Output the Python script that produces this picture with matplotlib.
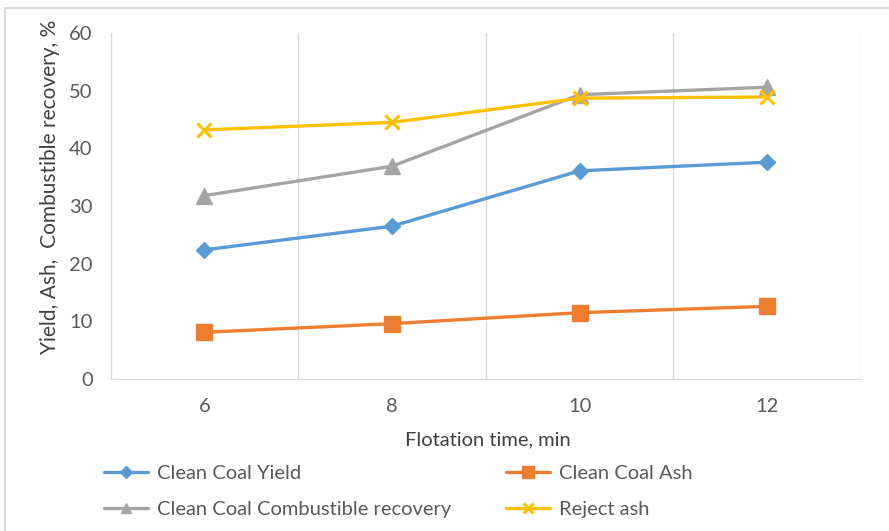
import matplotlib
matplotlib.use("Agg")
import matplotlib.pyplot as plt
from matplotlib.lines import Line2D

plt.rcParams['font.family'] = ['Lato', 'DejaVu Sans']

# Flotation times (min) and measured series (%)
times = ["6", "8", "10", "12"]
clean_coal_yield = [22.4, 26.5, 36.1, 37.6]
clean_coal_ash = [8.1, 9.6, 11.5, 12.6]
combustible_recovery = [31.8, 36.9, 49.3, 50.6]
reject_ash = [43.2, 44.5, 48.7, 48.9]
y_ticks = [0, 10, 20, 30, 40, 50, 60]

W, H = 889, 531
fig = plt.figure(figsize=(W / 100, H / 100), dpi=100)

# Outer chart frame (left and top edges)
fig.add_artist(Line2D([5 / W, 5 / W], [0, 1 - 8 / H], color="#D9D9D9", lw=1.5))
fig.add_artist(Line2D([5 / W, 1], [1 - 8 / H, 1 - 8 / H], color="#D9D9D9", lw=1.5))

left, right, top, bottom = 110.7, 861, 33, 379
ax = fig.add_axes([left / W, 1 - bottom / H, (right - left) / W, (bottom - top) / H])

x = list(range(len(times)))
series = [
    ("Clean Coal Yield", clean_coal_yield, "#5B9BD5", "D", 8.5, {}),
    ("Clean Coal Ash", clean_coal_ash, "#ED7D31", "s", 11.5, {}),
    ("Clean Coal Combustible recovery", combustible_recovery, "#A5A5A5", "^", 11, {}),
    ("Reject ash", reject_ash, "#FFC000", "x", 10, {"markeredgewidth": 2.2}),
]
handles = []
for label, vals, color, marker, ms, extra in series:
    h, = ax.plot(x, vals, color=color, lw=2.4, marker=marker, markersize=ms,
                 markerfacecolor=color, markeredgecolor=color, label=label,
                 solid_capstyle="round", **extra)
    handles.append(h)

ax.set_xlim(-0.5, len(times) - 0.5)
ax.set_ylim(0, 60)
ax.set_xticks(x)
ax.set_xticklabels(times)
ax.set_yticks(y_ticks)
ax.set_xticks([i - 0.5 for i in range(len(times) + 1)], minor=True)
ax.grid(True, which="minor", axis="x", color="#D9D9D9", lw=1)
ax.tick_params(which="both", length=0)
ax.tick_params(axis="x", pad=14, labelsize=14.5, labelcolor="#595959")
ax.tick_params(axis="y", pad=13, labelsize=14.5, labelcolor="#595959")
for s in ["top", "right", "left"]:
    ax.spines[s].set_visible(False)
ax.spines["bottom"].set_color("#D9D9D9")
ax.set_axisbelow(True)

fig.text(50 / W, 1 - 187 / H, "Yield, Ash,  Combustible recovery, %", rotation=90,
         ha="center", va="center", fontsize=15, color="#404040")
fig.text(488 / W, 1 - 440 / H, "Flotation time, min", ha="center", va="center",
         fontsize=14.5, color="#404040")

# Legend filled row by row: Yield, Ash / Recovery, Reject
order = [0, 2, 1, 3]
leg = fig.legend(handles=[handles[i] for i in order], ncol=2, loc="upper left",
                 bbox_to_anchor=(86 / W, 1 - 447 / H), frameon=False,
                 fontsize=14.5, labelcolor="#595959", handlelength=2.2,
                 handletextpad=0.45, columnspacing=2.7, labelspacing=0.95,
                 markerscale=0.7)

fig.savefig("out.png", dpi=100, facecolor="white")
